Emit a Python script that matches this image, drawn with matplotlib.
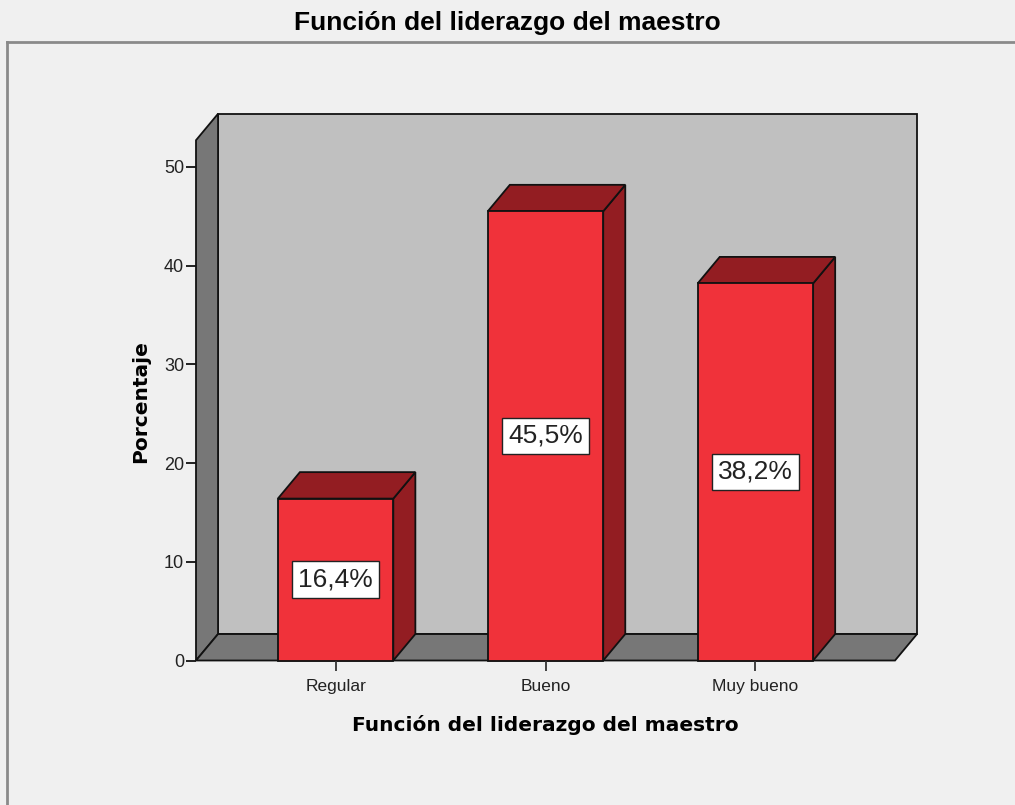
import matplotlib
matplotlib.use("Agg")
import matplotlib.pyplot as plt
from matplotlib.patches import Polygon, Rectangle
from matplotlib.lines import Line2D

# porcentajes por categoria
categorias = ["Regular", "Bueno", "Muy bueno"]
porcentajes = [16.4, 45.5, 38.2]
etiquetas = ["16,4%", "45,5%", "38,2%"]
yticks = [0, 10, 20, 30, 40, 50]

FONDO = "#f0f0f0"
ROJO = "#f0323a"
ROJO_OSC = "#931d22"
PARED = "#c0c0c0"
PARED_OSC = "#777777"

# profundidad del efecto 3D (en unidades de datos)
DX = 0.105
DY = 2.68
ANCHO = 0.55
XMIN, XMAX = -0.665, 2.665
TECHO = 52.7

fig = plt.figure(figsize=(10.15, 8.05), dpi=100, facecolor=FONDO)

# marco exterior del grafico
fig.add_artist(Line2D([7 / 1015, 1.0], [1 - 42 / 805] * 2, color="#8a8a8a", lw=2))
fig.add_artist(Line2D([7 / 1015] * 2, [0, 1 - 42 / 805], color="#8a8a8a", lw=2))

fig.text(0.5, 1 - 23 / 805, "Función del liderazgo del maestro", ha="center", va="center",
         fontsize=19, fontweight="bold", family="Liberation Sans")

ax = fig.add_axes([196 / 1015, (805 - 660.5) / 805, 699 / 1015, 543 / 805])
ax.set_facecolor("none")
ax.set_xlim(XMIN, XMAX)
ax.set_ylim(0, 55)
for s in ax.spines.values():
    s.set_visible(False)

edge = dict(edgecolor="#111111", lw=1.3, clip_on=False, joinstyle="miter")

# paredes y piso
ax.add_patch(Rectangle((XMIN + DX, DY), XMAX - XMIN, TECHO, facecolor=PARED, **edge))
ax.add_patch(Polygon([(XMIN, 0), (XMIN + DX, DY), (XMIN + DX, TECHO + DY), (XMIN, TECHO)],
                     facecolor=PARED_OSC, **edge))
ax.add_patch(Polygon([(XMIN, 0), (XMAX, 0), (XMAX + DX, DY), (XMIN + DX, DY)],
                     facecolor=PARED_OSC, **edge))

# barras 3D
for i, v in enumerate(porcentajes):
    x0, x1 = i - ANCHO / 2, i + ANCHO / 2
    ax.add_patch(Polygon([(x1, 0), (x1 + DX, DY), (x1 + DX, v + DY), (x1, v)],
                         facecolor=ROJO_OSC, **edge))
    ax.add_patch(Polygon([(x0, v), (x1, v), (x1 + DX, v + DY), (x0 + DX, v + DY)],
                         facecolor=ROJO_OSC, **edge))
    ax.add_patch(Rectangle((x0, 0), ANCHO, v, facecolor=ROJO, **edge))
    ax.text(i, v / 2, etiquetas[i], ha="center", va="center", fontsize=19,
            family="Liberation Sans", color="#222222",
            bbox=dict(boxstyle="square,pad=0.24", facecolor="white", edgecolor="#222222", lw=1))

ax.set_yticks(yticks)
ax.set_yticklabels([str(t) for t in yticks], family="Liberation Sans", fontsize=13, color="#222222")
ax.set_xticks(range(len(categorias)))
ax.set_xticklabels(categorias, family="Liberation Sans", fontsize=12.5, color="#222222")
ax.tick_params(axis="y", direction="out", length=7.5, width=1.3, color="#111111", pad=1)
ax.tick_params(axis="x", direction="out", length=7.5, width=1.3, color="#333333", pad=6)

ax.set_xlabel("Función del liderazgo del maestro", fontsize=14.5, fontweight="bold",
              family="DejaVu Sans", labelpad=15)
ax.set_ylabel("Porcentaje", fontsize=14.5, fontweight="bold", family="DejaVu Sans")
ax.yaxis.set_label_coords(-0.066, 0.477)

fig.savefig("out.png", dpi=100, facecolor=FONDO)
